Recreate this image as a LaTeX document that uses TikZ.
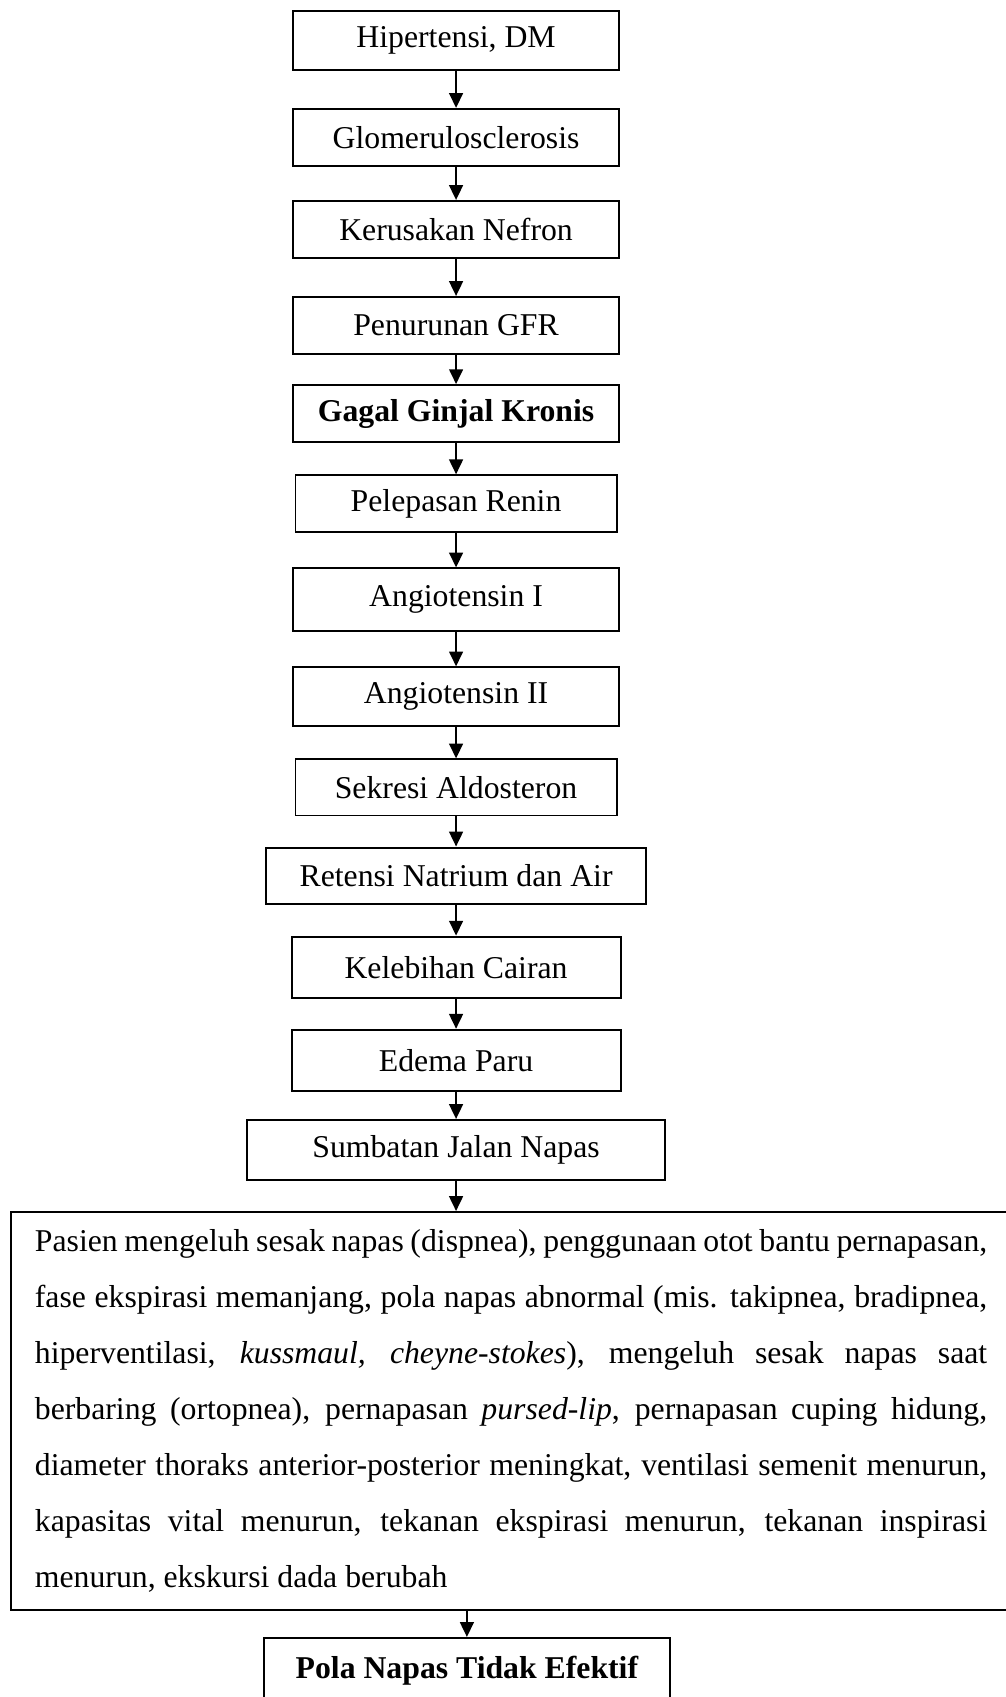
\documentclass[tikz,border=0pt]{standalone}
\usepackage{fontspec}
\setmainfont{Liberation Serif}
\usetikzlibrary{positioning}
\usetikzlibrary{arrows.meta}

\begin{document}
\begin{tikzpicture}[node distance=13pt,line width=0.75pt,
  >={Triangle[length=5.6pt,width=5.2pt]},
  kotak/.style={draw,minimum width=123.5pt,minimum height=21.6pt,inner sep=0pt,font=\fontsize{12}{14}\selectfont}]
  \useasboundingbox (0,0) rectangle (380pt,-641.5pt);
  \node[kotak,anchor=north,minimum height=22.3pt](hiper) at (172.4pt,-3.8pt) {Hipertensi, DM};
  \node[kotak,below=13.95pt of hiper](glom) {Glomerulosclerosis};
  \node[kotak,below=12.45pt of glom](nefron) {Kerusakan Nefron};
  \node[kotak,below=13.95pt of nefron](gfr) {Penurunan GFR};
  \node[kotak,below=10.95pt of gfr,font=\fontsize{12}{14}\selectfont\bfseries](ggk) {Gagal Ginjal Kronis};
  \node[kotak,below=11.75pt of ggk,minimum width=121.4pt](renin) {Pelepasan Renin};
  \node[kotak,below=12.85pt of renin,minimum height=23.8pt](angI) {Angiotensin I};
  \node[kotak,below=12.85pt of angI,minimum height=22.3pt](angII) {Angiotensin II};
  \node[kotak,below=11.75pt of angII,minimum width=121.4pt,minimum height=21.2pt](aldo) {Sekresi Aldosteron};
  \node[kotak,below=11.35pt of aldo,minimum width=143.7pt,minimum height=21.2pt](retensi) {Retensi Natrium dan Air};
  \node[kotak,below=11.75pt of retensi,minimum width=124.4pt,minimum height=23.1pt](cairan) {Kelebihan Cairan};
  \node[kotak,below=11.35pt of cairan,minimum width=124.4pt,minimum height=23.1pt](edema) {Edema Paru};
  \node[kotak,below=10.25pt of edema,minimum width=158pt,minimum height=22.7pt](sumbatan) {Sumbatan Jalan Napas};
  \node[draw,below=11.35pt of sumbatan,xshift=20.8pt,text width=360pt,inner xsep=9pt,inner ysep=0pt,minimum height=150.4pt,align=justify,font=\fontsize{12}{21.2}\selectfont](gejala) {Pasien mengeluh sesak napas (dispnea), penggunaan otot bantu pernapasan,\linebreak
    fase ekspirasi memanjang, pola napas abnormal (mis. takipnea, bradipnea,\linebreak
    hiperventilasi, \textit{kussmaul, cheyne-stokes}), mengeluh sesak napas saat\linebreak
    berbaring (ortopnea), pernapasan \textit{pursed-lip}, pernapasan cuping hidung,\linebreak
    diameter thoraks anterior-posterior meningkat, ventilasi semenit menurun,\linebreak
    kapasitas vital menurun, tekanan ekspirasi menurun, tekanan inspirasi\linebreak
    menurun, ekskursi dada berubah};
  \node[kotak,below=9.85pt of gejala,xshift=-16.7pt,minimum width=153.5pt,minimum height=25pt,font=\fontsize{12}{14}\selectfont\bfseries](pola) {Pola Napas Tidak Efektif};
  \draw[->] (hiper)--(glom);
  \draw[->] (glom)--(nefron);
  \draw[->] (nefron)--(gfr);
  \draw[->] (gfr)--(ggk);
  \draw[->] (ggk)--(renin);
  \draw[->] (renin)--(angI);
  \draw[->] (angI)--(angII);
  \draw[->] (angII)--(aldo);
  \draw[->] (aldo)--(retensi);
  \draw[->] (retensi)--(cairan);
  \draw[->] (cairan)--(edema);
  \draw[->] (edema)--(sumbatan);
  \draw[->] (sumbatan)--(sumbatan |- gejala.north);
  \draw[->] (gejala.south -| pola.north)--(pola);
\end{tikzpicture}
\end{document}
